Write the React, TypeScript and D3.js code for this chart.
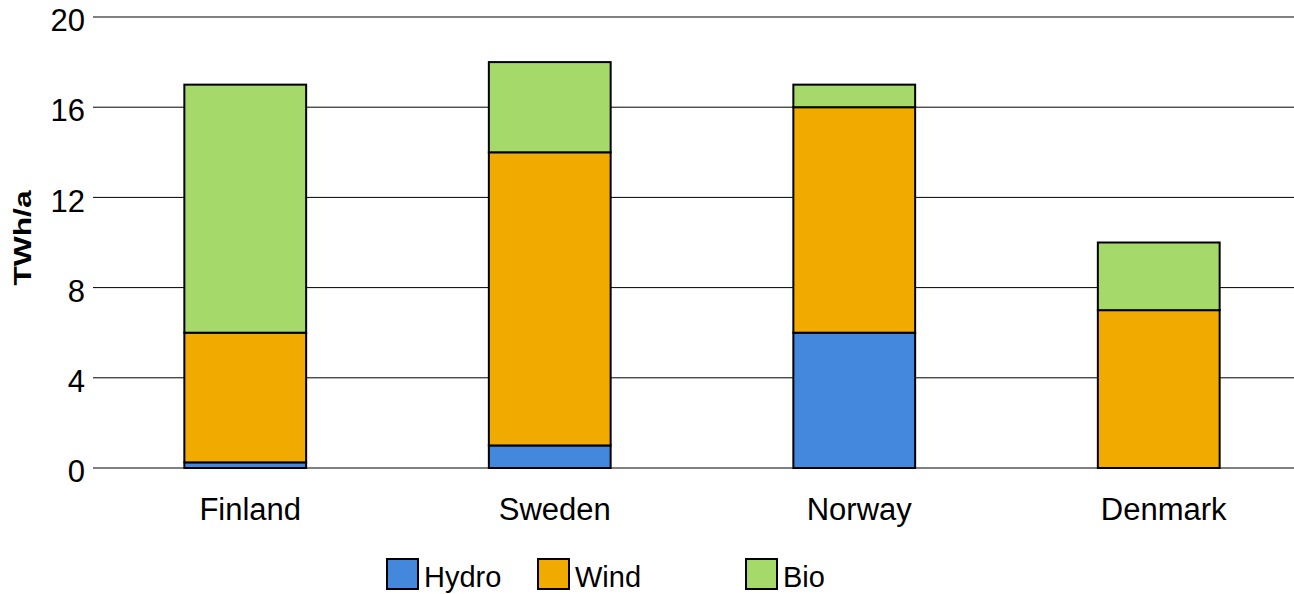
import React from "react";
import * as d3 from "d3";

const categories = ["Finland", "Sweden", "Norway", "Denmark"];
const seriesNames = ["Hydro", "Wind", "Bio"];
const hydro = [0.25, 1, 6, 0];
const wind = [5.75, 13, 10, 7];
const bio = [11, 4, 1, 3];
const yTicks = [0, 4, 8, 12, 16, 20];
const colors = ["#4388DD", "#F0AA00", "#A5D96A"];

const W = 1294;
const H = 594;
const FONT = "'Liberation Sans', Arial, sans-serif";

export default function App() {
  const x = d3
    .scaleBand<string>()
    .domain(categories)
    .range([93, 1311])
    .paddingInner(0.6)
    .paddingOuter(0.3);
  const y = d3.scaleLinear().domain([0, 20]).range([468, 17]);

  const rows = categories.map((c, i) => ({
    cat: c,
    Hydro: hydro[i],
    Wind: wind[i],
    Bio: bio[i],
  }));
  const stacked = d3.stack<any>().keys(seriesNames)(rows);

  const legendX = [387, 538, 746];

  return (
    <svg
      width={W}
      height={H}
      style={{ position: "absolute", left: 0, top: 0, background: "#fff" }}
      fontFamily={FONT}
    >
      {yTicks.map((t) => (
        <g key={t}>
          <line x1={93} x2={W} y1={y(t)} y2={y(t)} stroke="#000" strokeWidth={1} />
          <text
            x={85}
            y={y(t) + 6}
            textAnchor="end"
            dominantBaseline="middle"
            fontSize={31}
            fill="#000"
          >
            {t}
          </text>
        </g>
      ))}
      <text
        transform={`translate(31, 238) rotate(-90) scale(1.38, 1)`}
        textAnchor="middle"
        fontSize={23}
        fontWeight="bold"
        fill="#000"
      >
        TWh/a
      </text>
      {stacked.map((s, si) =>
        s.map((d, i) => {
          const h = y(d[0]) - y(d[1]);
          if (h <= 0) return null;
          return (
            <rect
              key={`${si}-${i}`}
              x={x(categories[i])!}
              y={y(d[1])}
              width={x.bandwidth()}
              height={h}
              fill={colors[si]}
              stroke="#000"
              strokeWidth={2}
            />
          );
        })
      )}
      {categories.map((c) => (
        <text
          key={c}
          x={x(c)! + x.bandwidth() / 2 + 5}
          y={520}
          textAnchor="middle"
          fontSize={31}
          fill="#000"
        >
          {c}
        </text>
      ))}
      {seriesNames.map((n, i) => (
        <g key={n}>
          <rect
            x={legendX[i]}
            y={559}
            width={31}
            height={30}
            fill={colors[i]}
            stroke="#000"
            strokeWidth={2}
          />
          <text x={legendX[i] + 37} y={587} fontSize={29} fill="#000">
            {n}
          </text>
        </g>
      ))}
    </svg>
  );
}
